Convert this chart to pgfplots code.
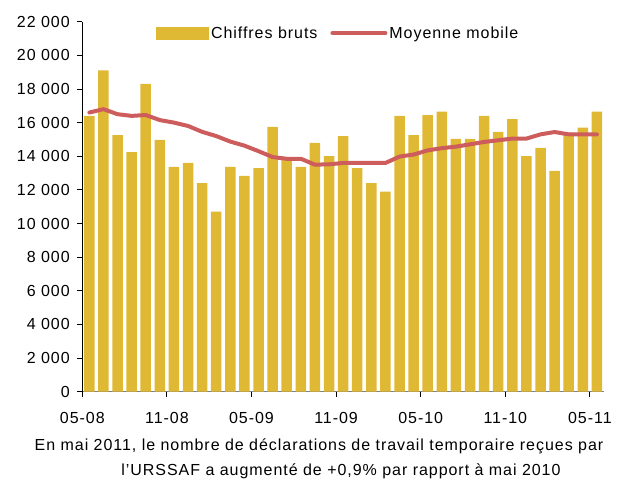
\documentclass[border=0pt]{standalone}
\usepackage{pgfplots}
\pgfplotsset{compat=1.18}
\usepackage{fontspec}
\setmainfont{Liberation Sans}[LetterSpace=6]
\definecolor{barc}{RGB}{224,185,52}
\definecolor{linec}{RGB}{205,92,92}
\begin{document}
\begin{tikzpicture}
\path[use as bounding box] (-82.3pt,-90.3pt) rectangle (536.7pt,391.7pt);
\begin{axis}[
  at={(0pt,0pt)}, anchor=south west,
  scale only axis, width=521.7pt, height=370pt,
  xmin=-0.5, xmax=36.5, ymin=0, ymax=22000,
  scaled y ticks=false,
  axis x line*=bottom, axis y line*=left,
  x axis line style={draw=gray, line width=1.6pt},
  y axis line style={draw=black, line width=0.8pt},
  ytick={0,2000,...,22000},
  yticklabels={0,2~000,4~000,6~000,8~000,10~000,12~000,14~000,16~000,18~000,20~000,22~000},
  xtick={-0.5,5.5,11.5,17.5,23.5,29.5,35.5},
  xticklabels={05-08,11-08,05-09,11-09,05-10,11-10,05-11},
  tick align=outside, major tick length=5pt,
  tick style={black, line width=0.8pt},
  ticklabel style={font=\fontsize{16}{18}\selectfont},
  yticklabel style={xshift=-4pt},
  xticklabel style={yshift=-12pt},
  legend columns=2,
  legend style={at={(0.141,0.969)}, anchor=west, draw=none, fill=none, inner sep=0pt,
    font=\fontsize{16}{18}\selectfont,
    /tikz/every even column/.append style={column sep=11pt},
    nodes={inner sep=2pt}},
  legend cell align=left,
]
\addplot[ybar, bar width=10.5pt, fill=barc, draw=none,
  legend image code/.code={\fill[barc] (0pt,-6.5pt) rectangle (53pt,6.5pt);}]
coordinates {
(0,16400)(1,19100)(2,15250)(3,14250)(4,18300)(5,14970)(6,13370)(7,13600)(8,12400)(9,10700)
(10,13370)(11,12830)(12,13300)(13,15750)(14,13950)(15,13370)(16,14800)(17,14000)(18,15200)(19,13300)
(20,12400)(21,11900)(22,16400)(23,15250)(24,16450)(25,16650)(26,15030)(27,15030)(28,16400)(29,15450)
(30,16200)(31,14000)(32,14500)(33,13130)(34,15400)(35,15700)(36,16650)
};
\addlegendentry{Chiffres bruts}
\addplot[linec, line width=4pt, line join=round, line cap=round,
  legend image code/.code={\draw[linec,line width=4pt] (0pt,0pt) -- (53pt,0pt);}]
coordinates {
(0,16600)(1,16800)(2,16500)(3,16400)(4,16450)(5,16150)(6,16000)(7,15800)(8,15450)(9,15200)
(10,14870)(11,14630)(12,14300)(13,13950)(14,13850)(15,13850)(16,13500)(17,13520)(18,13600)(19,13600)
(20,13600)(21,13600)(22,13980)(23,14100)(24,14350)(25,14480)(26,14570)(27,14710)(28,14850)(29,14950)
(30,15050)(31,15050)(32,15300)(33,15440)(34,15300)(35,15300)(36,15300)
};
\addlegendentry{Moyenne mobile}
\end{axis}
\node[font=\fontsize{16}{18}\selectfont] at (236.7pt,-55pt) {En mai 2011, le nombre de déclarations de travail temporaire reçues par};
\node[font=\fontsize{16}{18}\selectfont] at (258.7pt,-80pt) {l'URSSAF a augmenté de +0,9\% par rapport à mai 2010};
\end{tikzpicture}
\end{document}
